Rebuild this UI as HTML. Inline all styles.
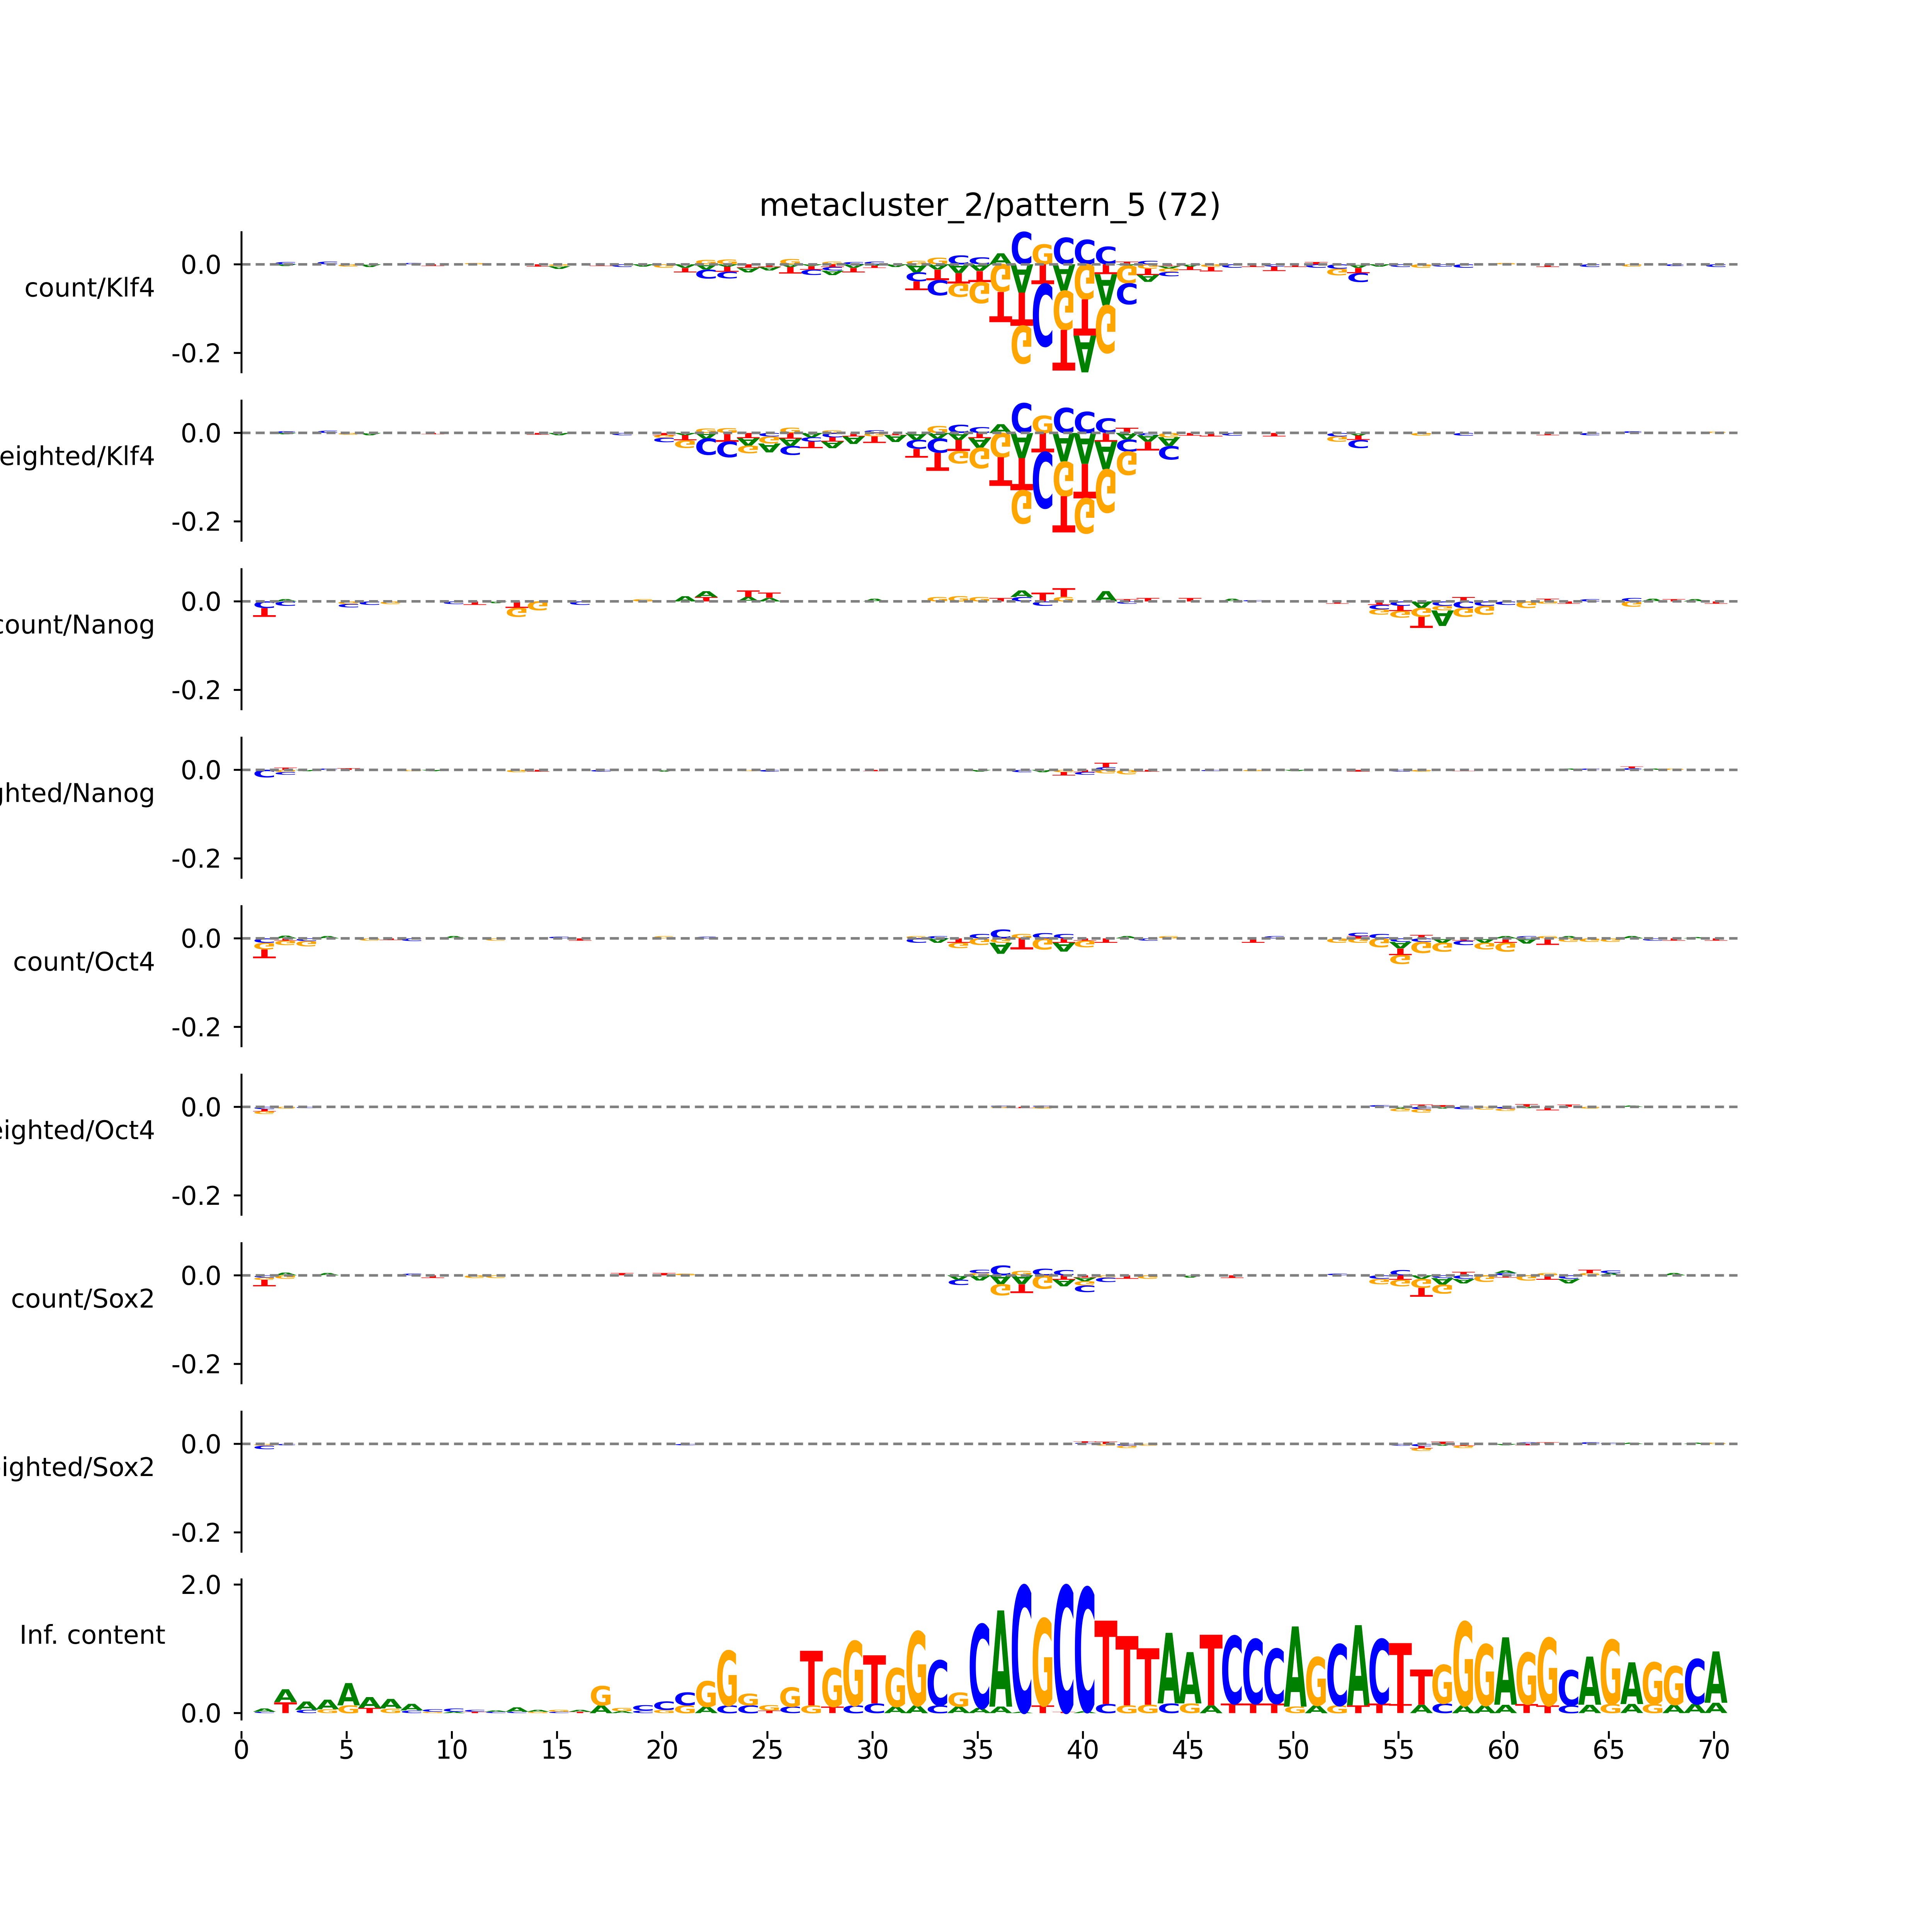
<!DOCTYPE html>
<html><head><meta charset="utf-8"><title>metacluster_2/pattern_5 (72)</title>
<style>
html,body{margin:0;padding:0;background:#fff;overflow:hidden;width:100%;height:100%;}
svg{display:block;width:100vw;height:100vh;}
text{font-family:"DejaVu Sans","Liberation Sans",sans-serif;}
</style></head>
<body>
<svg id="chart" viewBox="0 0 6000 6000" preserveAspectRatio="xMidYMid meet" xmlns="http://www.w3.org/2000/svg">
<rect x="0" y="0" width="6000" height="6000" fill="#ffffff"/>
<text x="3075" y="670" font-size="98" text-anchor="middle" fill="#000">metacluster_2/pattern_5 (72)</text>
<g id="plots"></g>
</svg>
<script>
// ---- data (contribution values in thousandths, [position, value]) ----
const panelNames = ["count/Klf4","weighted/Klf4","count/Nanog","weighted/Nanog","count/Oct4","weighted/Oct4","count/Sox2","weighted/Sox2"];
const klf4CountA = [[2,-4],[6,-6],[15,-6],[19,-5],[21,-8],[22,-12],[23,-5],[24,-10],[25,-8],[26,-6],[27,-4],[28,-10],[29,-8],[30,-3],[31,-6],[32,-18],[33,-12],[34,-20],[35,-15],[36,25],[37,-64],[39,-60],[40,-83],[41,-71],[42,-3],[43,-16],[44,-5],[45,-5],[53,-8],[54,-5]];
const klf4CountC = [[2,5],[4,6],[8,3],[18,-6],[22,-20],[23,-15],[27,-12],[28,-8],[29,5],[30,6],[32,-20],[33,-34],[34,20],[35,16],[37,73],[38,-140],[39,60],[40,55],[41,40],[42,-47],[43,8],[44,-10],[47,-8],[49,-5],[51,-8],[52,-10],[53,-20],[55,-6],[57,-5],[58,-8],[64,-6],[68,-4],[70,-6]];
const klf4CountG = [[5,-5],[11,3],[15,-4],[20,-8],[22,10],[23,11],[26,12],[28,6],[32,8],[33,15],[34,-30],[35,-48],[36,-62],[37,-85],[38,45],[39,-88],[40,-79],[41,-107],[42,-40],[43,-10],[44,-8],[46,-6],[52,-15],[56,-8],[60,3],[66,-5]];
const klf4CountT = [[9,-4],[14,-5],[17,-4],[21,-10],[23,-12],[24,-8],[25,-6],[26,-15],[27,-8],[28,-6],[29,-10],[30,-5],[32,-20],[33,-24],[34,-23],[35,-25],[36,-68],[37,-75],[38,-45],[39,-92],[40,-82],[41,-22],[42,6],[43,-14],[44,-4],[45,-8],[46,-10],[48,-6],[49,-10],[50,-6],[51,5],[53,-12],[62,-6]];
const klf4WeightedA = [[2,-3],[6,-5],[15,-5],[21,-5],[22,-13],[24,-17],[25,-20],[26,-17],[27,-10],[28,-15],[29,-17],[31,-16],[32,-16],[33,-13],[34,-16],[35,-22],[36,20],[37,-57],[39,-65],[40,-70],[41,-63],[42,-15],[43,-15],[44,-20],[53,-6]];
const klf4WeightedC = [[2,4],[4,5],[18,-5],[20,-10],[22,-37],[23,-35],[25,-8],[26,-20],[27,-10],[28,-10],[30,6],[32,-20],[33,-32],[34,18],[35,13],[37,67],[38,-126],[39,57],[40,48],[41,33],[42,-27],[43,-5],[44,-30],[47,-6],[52,-8],[53,-18],[58,-6],[64,-5],[66,4]];
const klf4WeightedG = [[5,-4],[20,-6],[21,-17],[22,10],[23,11],[24,-17],[25,-16],[26,12],[28,6],[30,-8],[33,16],[34,-28],[35,-46],[36,-55],[37,-75],[38,39],[39,-78],[40,-79],[41,-97],[42,-53],[44,-10],[52,-12],[56,-6],[70,3]];
const klf4WeightedT = [[9,-3],[14,-4],[20,-5],[21,-12],[23,-20],[24,-12],[26,-13],[27,-15],[28,-10],[29,-8],[30,-15],[31,-5],[32,-20],[33,-41],[34,-25],[35,-12],[36,-65],[37,-73],[38,-44],[39,-82],[40,-78],[41,-20],[42,12],[43,-20],[45,-6],[46,-8],[49,-8],[53,-10],[62,-5]];
const nanogCountA = [[2,5],[12,-4],[21,12],[22,13],[24,10],[25,8],[30,6],[37,15],[41,23],[47,6],[56,-15],[57,-35],[67,6],[69,5]];
const nanogCountC = [[1,-15],[2,-10],[5,-8],[6,-8],[10,-6],[16,-8],[37,10],[38,-10],[42,-5],[48,3],[54,-10],[55,-10],[57,-10],[58,-15],[59,-10],[60,-8],[64,5],[66,8]];
const nanogCountG = [[5,-6],[7,-6],[13,-20],[14,-20],[19,5],[33,10],[34,12],[35,10],[39,10],[54,-12],[55,-15],[56,-20],[57,-10],[58,-20],[59,-20],[61,-15],[62,-5],[66,-12]];
const nanogCountT = [[1,-20],[11,-8],[13,-15],[22,10],[24,15],[25,12],[36,8],[38,20],[39,20],[42,5],[43,8],[45,8],[52,-5],[54,-8],[55,-12],[56,-25],[58,10],[62,6],[63,-5],[68,5],[70,-5]];
const nanogWeightedA = [[3,-3],[9,-3],[20,-4],[35,-4],[38,-5],[50,-3],[63,3],[67,3]];
const nanogWeightedC = [[1,-17],[2,-6],[4,3],[17,-4],[25,-4],[37,-5],[40,-6],[41,6],[46,-3],[55,-4],[64,3],[66,4]];
const nanogWeightedG = [[2,-5],[8,-3],[13,-5],[24,-3],[39,-5],[41,-8],[42,-10],[48,-3],[56,-4],[68,3]];
const nanogWeightedT = [[2,5],[5,4],[14,-4],[30,-3],[39,-8],[40,-5],[41,10],[43,-4],[53,-4],[58,-3],[66,4]];
const oct4CountA = [[2,6],[4,5],[10,5],[33,-10],[36,-25],[39,-20],[42,5],[55,-15],[57,-10],[59,-10],[60,5],[61,-12],[63,5],[66,5],[69,3]];
const oct4CountC = [[1,-10],[3,-6],[8,-6],[15,4],[22,4],[32,-10],[33,5],[35,10],[36,20],[38,12],[39,10],[43,-5],[49,5],[53,8],[54,10],[55,-8],[56,-8],[58,-10],[61,5],[67,-5]];
const oct4CountG = [[1,-15],[2,-10],[3,-12],[6,-5],[12,-5],[20,5],[32,5],[34,-12],[35,-15],[36,-10],[37,10],[38,-25],[40,-15],[44,5],[52,-10],[53,-10],[54,-20],[55,-20],[56,-25],[57,-20],[59,-15],[60,-20],[62,5],[63,-8],[64,-8],[65,-8]];
const oct4CountT = [[1,-20],[2,-5],[7,-4],[16,-5],[34,-10],[37,-25],[39,-10],[40,-5],[41,-10],[48,-10],[53,5],[55,-15],[56,8],[58,-5],[60,-10],[62,-15],[68,-5],[70,-5]];
const oct4WeightedA = [[55,-4],[57,-4],[61,-3],[66,3]];
const oct4WeightedC = [[1,-5],[3,-3],[36,3],[38,3],[54,4],[56,-5],[58,-5],[60,-4]];
const oct4WeightedG = [[1,-6],[2,-4],[36,-3],[38,-4],[55,-6],[56,-8],[59,-6],[60,-5],[64,-4]];
const oct4WeightedT = [[1,-5],[37,-3],[56,5],[57,4],[61,6],[62,-8],[63,5]];
const sox2CountA = [[2,6],[4,5],[34,-10],[35,-12],[36,-20],[37,-20],[39,-15],[40,-8],[45,-5],[56,-8],[57,-15],[58,-10],[60,6],[63,-10],[65,5],[68,5]];
const sox2CountC = [[1,-5],[8,4],[34,-12],[35,8],[36,22],[38,15],[39,12],[40,-15],[41,-10],[52,4],[54,-8],[55,12],[57,-6],[58,-8],[60,5],[63,-8],[65,6]];
const sox2CountG = [[1,-5],[2,-8],[11,-6],[12,-6],[21,4],[35,5],[36,-25],[37,10],[38,-30],[40,-10],[41,-5],[43,-8],[54,-12],[55,-15],[56,-20],[57,-20],[59,-15],[61,-12],[62,5],[64,5]];
const sox2CountT = [[1,-15],[9,-6],[18,5],[20,5],[37,-20],[39,-10],[40,-5],[42,-8],[47,-6],[55,-10],[56,-20],[58,8],[60,-5],[62,-10],[64,8]];
const sox2WeightedA = [[57,-4],[60,-3],[66,3],[69,3]];
const sox2WeightedC = [[1,-8],[2,-3],[21,-3],[40,3],[42,-4],[55,-4],[56,-5],[61,4],[64,4],[65,3]];
const sox2WeightedG = [[1,-4],[41,-4],[42,-5],[43,-4],[56,-6],[58,-5],[70,3]];
const sox2WeightedT = [[40,3],[41,5],[56,-5],[57,5],[58,-4],[61,-3],[62,4]];

// information content: main letter / height and secondary letter / height per position 1..70
const icMain = "AAAAAAAACCCAAAGAGGCCCGGGGGTGGTGGCGCACGCCTTTAATCCCAGCACTTGGGAGGCAGAGGCA".split("");
const icMainH = [0.05,0.2,0.13,0.15,0.35,0.17,0.15,0.1,0.04,0.05,0.03,0.02,0.07,0.03,0.03,0.03,0.3,0.05,0.08,0.13,0.2,0.4,0.85,0.18,0.08,0.3,0.85,0.6,1.0,0.75,0.6,1.15,0.7,0.22,1.3,1.5,1.96,1.35,1.96,1.92,1.3,1.08,0.88,1.1,0.8,1.1,1.05,1.0,0.85,1.25,0.75,0.95,1.25,1.0,0.95,0.55,0.6,1.3,0.95,1.05,0.8,1.05,0.55,0.75,1.0,0.65,0.65,0.6,0.7,0.8];
const icSecond = "CTCGGTGCGATCCGCTAACGGACCTCGTCCAACAAAATTACGGCGATTTGAGTTTACAAATTCAGAGAAAT".split("");
const icSecondH = [0.02,0.17,0.05,0.06,0.12,0.08,0.07,0.04,0.02,0.02,0.02,0.02,0.02,0.02,0.02,0.02,0.12,0.03,0.04,0.05,0.12,0.1,0.12,0.12,0.04,0.1,0.12,0.1,0.12,0.15,0.1,0.12,0.12,0.1,0.08,0.1,0.02,0.12,0.02,0.03,0.14,0.12,0.13,0.15,0.15,0.12,0.15,0.15,0.15,0.1,0.12,0.12,0.12,0.15,0.14,0.13,0.15,0.12,0.12,0.13,0.14,0.12,0.12,0.13,0.14,0.14,0.14,0.13,0.14,0.16];
const xTicks = [0,5,10,15,20,25,30,35,40,45,50,55,60,65,70];
const contribTicks = [0.0,-0.2];
const contribTickLabels = ["0.0","-0.2"];
const icTicks = [0.0,2.0];
const icTickLabels = ["0.0","2.0"];

const panelData = [
  [klf4CountA,klf4CountC,klf4CountG,klf4CountT],
  [klf4WeightedA,klf4WeightedC,klf4WeightedG,klf4WeightedT],
  [nanogCountA,nanogCountC,nanogCountG,nanogCountT],
  [nanogWeightedA,nanogWeightedC,nanogWeightedG,nanogWeightedT],
  [oct4CountA,oct4CountC,oct4CountG,oct4CountT],
  [oct4WeightedA,oct4WeightedC,oct4WeightedG,oct4WeightedT],
  [sox2CountA,sox2CountC,sox2CountG,sox2CountT],
  [sox2WeightedA,sox2WeightedC,sox2WeightedG,sox2WeightedT]
];

// ---- layout ----
const NS = "http://www.w3.org/2000/svg";
const X0 = 750, XU = 65.33;
const xs = v => X0 + XU * v;
const PANEL0 = 821, PANEL_STEP = 523.3, CSCALE = 1375;
const IC0 = 5320, ICSCALE = 199.5;
const COLORS = {A:"#008000", C:"#0000ff", G:"#ffa500", T:"#ff0000"};
const BASES = ["A","C","G","T"];
const root = document.getElementById("plots");

function mk(tag, attrs, parent) {
  const el = document.createElementNS(NS, tag);
  for (const k in attrs) el.setAttribute(k, attrs[k]);
  (parent || root).appendChild(el);
  return el;
}

function drawLetter(g, ch, pos, yEdge, h, flipped) {
  if (h < 0.5) return;
  const cx = xs(pos) + 6;
  const w = 64;
  const t = mk("text", {
    x: 0, y: 0, "font-size": 100, "font-weight": "bold", "text-anchor": "middle",
    fill: COLORS[ch], textLength: (w * 1.12).toFixed(1), lengthAdjust: "spacingAndGlyphs",
    transform: "translate(" + cx.toFixed(1) + "," + yEdge.toFixed(1) + ") scale(1," + ((flipped ? -1 : 1) * h / 73).toFixed(4) + ")"
  }, g);
  
  
  t.textContent = ch;
}

function yAxis(g, yTop, yBot, ticks, labels, toY) {
  const sp = mk("line", {x1: X0, y1: yTop, x2: X0, y2: yBot, stroke: "#000", "stroke-width": 6}, g);
  
  
  ticks.forEach((v, i) => {
    const y = toY(v);
    const tk = mk("line", {x1: X0 - 24, y1: y, x2: X0, y2: y, stroke: "#000", "stroke-width": 6}, g);
    
    
    const tl = mk("text", {x: 688, y: y + 29, "font-size": 80, "text-anchor": "end", fill: "#000"}, g);
    
    
    tl.textContent = labels[i];
  });
}

// contribution panels
panelData.forEach((arrs, k) => {
  const y0 = PANEL0 + k * PANEL_STEP;
  const g = mk("g", {});
  
  
  const toY = v => y0 - v * CSCALE;
  const vals = {};
  arrs.forEach((arr, b) => arr.forEach(([p, v]) => {
    (vals[p] = vals[p] || []).push([BASES[b], v / 1000]);
  }));
  for (const p in vals) {
    const pos = +p;
    const pos_ = vals[p].filter(d => d[1] > 0).sort((a, b) => a[1] - b[1]);
    const neg = vals[p].filter(d => d[1] < 0).sort((a, b) => b[1] - a[1]);
    let acc = 0;
    pos_.forEach(([ch, v]) => { drawLetter(g, ch, pos, toY(acc), v * CSCALE, false); acc += v; });
    acc = 0;
    neg.forEach(([ch, v]) => { drawLetter(g, ch, pos, toY(acc), -v * CSCALE, true); acc += v; });
  }
  const zl = mk("line", {x1: X0, y1: y0, x2: 5396, y2: y0, stroke: "#808080", "stroke-width": 8, "stroke-dasharray": "28,16"}, g);
  
  
  yAxis(g, y0 - 103, y0 + 338, contribTicks, contribTickLabels, toY);
  const lab = mk("text", {x: 482, y: y0 + 100, "font-size": 80, "text-anchor": "end", fill: "#000"}, g);
  
  
  lab.textContent = panelNames[k];
});

// information content panel
(function () {
  const g = mk("g", {});
  
  
  const toY = v => IC0 - v * ICSCALE;
  icMain.forEach((ch, i) => {
    const pos = i + 1;
    const h2 = icSecondH[i], h1 = icMainH[i];
    drawLetter(g, icSecond[i], pos, toY(0), h2 * ICSCALE, false);
    drawLetter(g, ch, pos, toY(h2), h1 * ICSCALE, false);
  });
  yAxis(g, 4902, 5343, icTicks, icTickLabels, toY);
  const lab = mk("text", {x: 514, y: 5105, "font-size": 80, "text-anchor": "end", fill: "#000"}, g);
  
  
  lab.textContent = "Inf. content";
  xTicks.forEach(v => {
    const x = xs(v);
    const tk = mk("line", {x1: x, y1: 5376, x2: x, y2: 5400, stroke: "#000", "stroke-width": 6}, g);
    
    
    const tl = mk("text", {x: x, y: 5462, "font-size": 80, "text-anchor": "middle", fill: "#000"}, g);
    
    
    tl.textContent = String(v);
  });
})();
</script>
</body></html>
